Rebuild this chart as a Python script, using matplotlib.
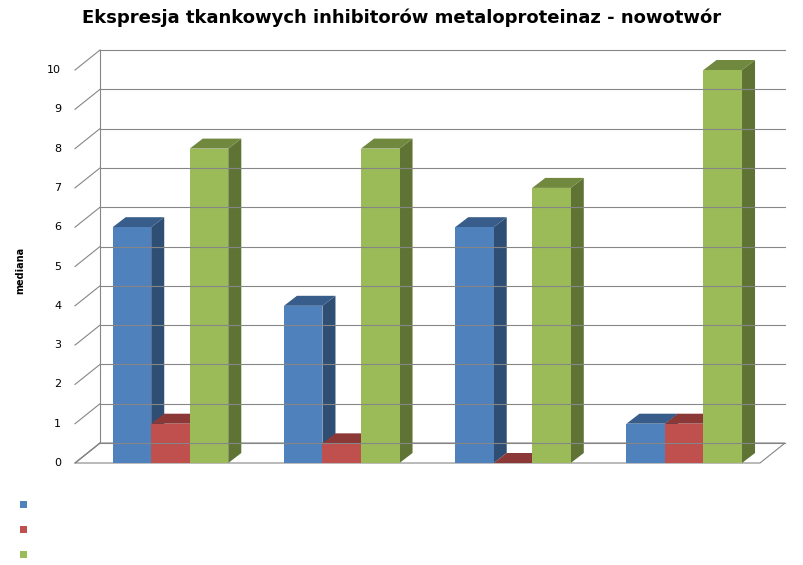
import matplotlib.pyplot as plt
from matplotlib.patches import Polygon, Rectangle

kategorie = ['N0', 'N1', 'N2', 'N3']
serie = ['TIMP-1', 'TIMP-2', 'TIMP-3']
timp1 = [6, 4, 6, 1]
timp2 = [1, 0.5, 0, 1]
timp3 = [8, 8, 7, 10]
etykiety = [['6', '4', '6', '1'], ['1', '0,5', '0', '1'], ['8', '8', '7', '10']]

kolory = ['#4F81BD', '#C0504D', '#9BBB59']
ciemne = ['#385D8A', '#8C3836', '#71893F']
boki = ['#2F4E74', '#772F2D', '#5F7335']

W, H = 804, 565
fig = plt.figure(figsize=(W / 100, H / 100), dpi=100)
ax = fig.add_axes([75 / W, (H - 463) / H, 685 / W, 393 / H])
ax.set_xlim(0, 4)
ax.set_ylim(0, 10)
ax.axis('off')

dx, dy = 25 / 171, 20 / 39.3  # glebia sciany
bx, by = 13 / 171, 10 / 39.3  # glebia slupka

# podloga i sciany
ax.add_patch(Polygon([(0, 0), (4, 0), (4 + dx, dy), (dx, dy)], closed=True,
                     fc='white', ec='#868686', lw=0.8, clip_on=False))
ax.plot([0, dx], [0, dy], color='#868686', lw=0.8, clip_on=False)
for v in range(0, 11):
    ax.plot([dx, 4 + dx], [v + dy, v + dy], color='#868686', lw=0.8, clip_on=False)
    ax.plot([0, dx], [v, v + dy], color='#868686', lw=0.8, clip_on=False)
    ax.text(-0.08, v, str(v), ha='right', va='center', fontsize=8)
ax.plot([dx, dx], [dy, 10 + dy], color='#868686', lw=0.8, clip_on=False)

szer = 0.225
start = 0.22
for s, wartosci in enumerate([timp1, timp2, timp3]):
    for i, v in enumerate(wartosci):
        x0 = i + start + s * szer
        x1 = x0 + szer
        ax.add_patch(Polygon([(x1, 0), (x1 + bx, by), (x1 + bx, v + by), (x1, v)],
                             closed=True, fc=boki[s], ec='none', clip_on=False))
        ax.add_patch(Polygon([(x0, v), (x1, v), (x1 + bx, v + by), (x0 + bx, v + by)],
                             closed=True, fc=ciemne[s], ec='none', clip_on=False))
        ax.add_patch(Rectangle((x0, 0), szer, v, fc=kolory[s], ec='none', clip_on=False))

tab = ax.table(cellText=etykiety, rowLabels=['      ' + n for n in serie],
               colLabels=kategorie, cellLoc='center', rowLoc='left',
               bbox=[0, -100 / 393, 4 + 0 * 0, 100 / 393])
tab.auto_set_font_size(False)
tab.set_fontsize(8)
for (r, c), cell in tab.get_celld().items():
    cell.set_edgecolor('#868686')
    cell.set_linewidth(0.8)
tab.set_transform(ax.transData)
tab._bbox = [0, -100 / 39.3, 4, 100 / 39.3]
for s in range(3):
    fig.patches.append(Rectangle(((20) / W, (H - 508 - s * 25) / H), 7 / W, 7 / H,
                                 transform=fig.transFigure, fc=kolory[s], ec='none'))

fig.text(0.5, 1 - 18 / H, 'Ekspresja tkankowych inhibitorów metaloproteinaz - nowotwór',
         ha='center', va='center', fontsize=13, fontweight='bold')
fig.text(20 / W, 1 - 270 / H, 'mediana', rotation=90, ha='center', va='center',
         fontsize=7, fontweight='bold')

fig.savefig('out.png', dpi=100)
